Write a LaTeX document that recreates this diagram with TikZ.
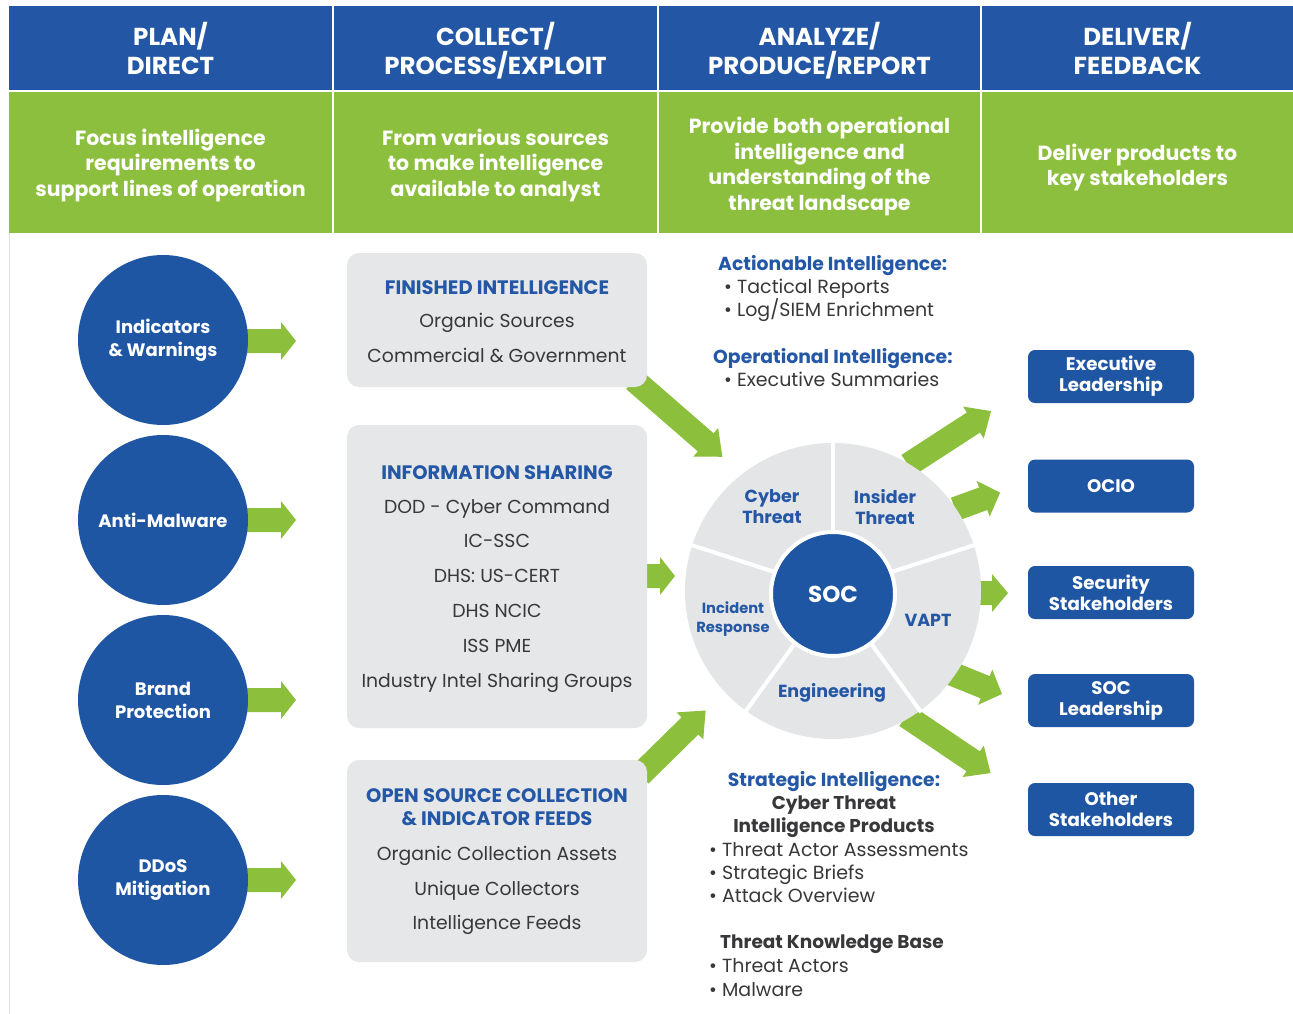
\documentclass[tikz,border=0pt]{standalone}
\usepackage{fontspec}
\setmainfont{Poppins}
\usetikzlibrary{calc}
\definecolor{hblue}{HTML}{2357A5}
\definecolor{hgreen}{HTML}{8DBF3F}
\definecolor{cblue}{HTML}{1F56A3}
\definecolor{boxgray}{HTML}{E6E7E9}
\definecolor{wgray}{HTML}{E4E5E7}
\definecolor{tblue}{HTML}{2457A6}
\definecolor{tgray}{HTML}{38383A}
\definecolor{agreen}{HTML}{8CC03C}
\newcommand{\garrow}[5]{% x y ccw-angle length headlength
  \begin{scope}[shift={(#1,#2)},rotate=#3]
    \fill[agreen] (0,-12) -- ({#4-#5},-12) -- ({#4-#5},-19) -- (#4,0) -- ({#4-#5},19) -- ({#4-#5},12) -- (0,12) -- cycle;
  \end{scope}}
\begin{document}
\begin{tikzpicture}[x=1pt,y=-1pt,
  hcell/.style={fill=hblue, minimum height=84pt, inner sep=0pt},
  htext/.style={text=white, inner sep=0pt, align=center,
    font=\fontsize{24.5}{27}\selectfont\bfseries},
  gcell/.style={fill=hgreen, minimum height=141pt, inner sep=0pt},
  gtext/.style={text=white, inner sep=0pt, align=center,
    font=\fontsize{20.5}{25.5}\selectfont\bfseries},
  lcirc/.style={circle, fill=cblue, minimum size=170pt, inner sep=0pt, text=white, align=center,
    font=\fontsize{18}{23}\selectfont\bfseries},
  gbox/.style={fill=boxgray, rounded corners=12pt, minimum width=300pt, inner sep=0pt},
  lbl/.style={anchor=base, inner sep=0pt},
  lblw/.style={anchor=base west, inner sep=0pt},
  hd/.style={text=tblue, font=\fontsize{19.5}{23}\selectfont\bfseries},
  itm/.style={text=tgray, font=\fontsize{18.8}{23}\selectfont},
  rhd/.style={text=tblue, font=\fontsize{18.8}{23}\selectfont\bfseries},
  ritm/.style={text=tgray, font=\fontsize{19}{23}\selectfont},
  ritb/.style={text=tgray, font=\fontsize{18.5}{23}\selectfont\bfseries},
  wl/.style={text=tblue, align=center, inner sep=0pt, font=\fontsize{17.5}{21}\selectfont\bfseries},
  rbox/.style={fill=cblue, rounded corners=7pt, minimum width=166pt, minimum height=53pt, inner sep=0pt,
    text=white, align=center, font=\fontsize{18.2}{21}\selectfont\bfseries},
  divider/.style={white, line width=4pt}
]
\useasboundingbox[fill=white] (0,0) rectangle (1293,1014);
\draw[black!12, line width=1pt] (9,233) -- (9,1014);

% header
\node[hcell, minimum width=323pt] (h1) at (170.5,48) {};
\node[hcell, minimum width=323pt] (h2) at (495.5,48) {};
\node[hcell, minimum width=321pt] (h3) at (819.5,48) {};
\node[hcell, minimum width=311pt] (h4) at (1137.5,48) {};
\node[htext] (ht1) at (170.5,50.5) {PLAN/\\DIRECT\vphantom{/}};
\node[htext] (ht2) at (495.5,50.5) {COLLECT/\\PROCESS/EXPLOIT};
\node[htext] (ht3) at (819.5,50.5) {ANALYZE/\\PRODUCE/REPORT};
\node[htext] (ht4) at (1137.5,50.5) {DELIVER/\\FEEDBACK\vphantom{/}};
\node[gcell, minimum width=323pt] (g1) at (170.5,162.5) {};
\node[gcell, minimum width=323pt] (g2) at (495.5,162.5) {};
\node[gcell, minimum width=321pt] (g3) at (819.5,162.5) {};
\node[gcell, minimum width=311pt] (g4) at (1137.5,162.5) {};
\node[gtext] (gt1) at (170.5,165.5) {Focus intelligence\\requirements to\\support lines of operation};
\node[gtext] (gt2) at (495.5,165.5) {From various sources\\to make intelligence\\available to analyst};
\node[gtext] (gt3) at (819.5,166.5) {Provide both operational\\intelligence and\\understanding of the\\threat landscape};
\node[gtext] (gt4) at (1137.5,167.5) {Deliver products to\\key stakeholders};

% green arrows
\garrow{245}{341}{0}{51}{15}
\garrow{245}{520}{0}{51}{15}
\garrow{245}{700}{0}{51}{15}
\garrow{245}{880}{0}{51}{15}
\garrow{646}{576}{0}{29}{15}
\garrow{634}{380}{-41}{117}{22}
\garrow{640}{775}{44.5}{92}{22}
\garrow{908}{465}{33}{99}{21}
\garrow{955}{509}{20}{48}{18}
\garrow{975}{593}{0}{33}{16}
\garrow{950}{673}{-22}{56}{18}
\garrow{906}{716}{-34}{102}{21}

% left circles
\node[lcirc] (c1) at (163,340) {Indicators\\\& Warnings};
\node[lcirc] (c2) at (163,520) {Anti-Malware};
\node[lcirc] (c3) at (163,700) {Brand\\Protection};
\node[lcirc] (c4) at (163,880) {DDoS\\Mitigation};

% gray boxes
\node[gbox, minimum height=134pt] (fin) at (497,320) {};
\node[gbox, minimum height=303pt] (inf) at (497,576.5) {};
\node[gbox, minimum height=202pt] (osc) at (497,861) {};

\node[lbl, hd] at (497,294) {FINISHED INTELLIGENCE};
\node[lbl, itm] at (497,327) {Organic Sources};
\node[lbl, itm] at (497,362) {Commercial \& Government};

\node[lbl, hd] at (497,479) {INFORMATION SHARING};
\node[lbl, itm] at (497,513) {DOD - Cyber Command};
\node[lbl, itm] at (497,547) {IC-SSC};
\node[lbl, itm] at (497,582) {DHS: US-CERT};
\node[lbl, itm] at (497,617) {DHS NCIC};
\node[lbl, itm] at (497,652) {ISS PME};
\node[lbl, itm] at (497,687) {Industry Intel Sharing Groups};

\node[lbl, hd] at (497,802) {OPEN SOURCE COLLECTION};
\node[lbl, hd] at (497,825) {\& INDICATOR FEEDS};
\node[lbl, itm] at (497,860) {Organic Collection Assets};
\node[lbl, itm] at (497,895) {Unique Collectors};
\node[lbl, itm] at (497,929) {Intelligence Feeds};

% analyze texts
\node[lblw, rhd] at (718,270) {Actionable Intelligence:};
\node[lblw, ritm] at (724,293) {• Tactical Reports};
\node[lblw, ritm] at (724,316) {• Log/SIEM Enrichment};
\node[lblw, rhd] at (713,363) {Operational Intelligence:};
\node[lblw, ritm] at (724,386) {• Executive Summaries};

\node[lbl, rhd] at (834,786) {Strategic Intelligence:};
\node[lbl, ritb] at (834,809) {Cyber Threat};
\node[lbl, ritb] at (834,832) {Intelligence Products};
\node[lblw, ritm] at (709,856) {• Threat Actor Assessments};
\node[lblw, ritm] at (709,879) {• Strategic Briefs};
\node[lblw, ritm] at (709,902) {• Attack Overview};
\node[lblw, ritb] at (720,948) {Threat Knowledge Base};
\node[lblw, ritm] at (709,972) {• Threat Actors};
\node[lblw, ritm] at (709,996) {• Malware};

% wheel
\coordinate (w) at (833,591);
\fill[wgray] (w) circle (148);
\foreach \a in {-90,-18,54,126,198}
  \draw[divider] ($(w)+(\a:58)$) -- ($(w)+(\a:150)$);
\node[circle, fill=cblue, draw=white, line width=4pt, minimum size=124pt, inner sep=0pt,
  text=white, font=\fontsize{23}{26}\selectfont\bfseries] (soc) at (833,594) {SOC};
\node[wl] (ct) at (772,507) {Cyber\\Threat};
\node[wl] (it) at (885,507) {Insider\\Threat};
\node[wl] (va) at (928,620) {VAPT};
\node[wl] (en) at (832,693) {Engineering};
\node[wl, font=\fontsize{14.7}{19}\selectfont\bfseries] (ir) at (733,619) {Incident\\Response};

% deliver boxes
\node[rbox] (r1) at (1111,376.5) {Executive\\Leadership};
\node[rbox] (r2) at (1111,486) {OCIO};
\node[rbox] (r3) at (1111,592.5) {Security\\Stakeholders};
\node[rbox] (r4) at (1111,700.5) {SOC\\Leadership};
\node[rbox] (r5) at (1111,809.5) {Other\\Stakeholders};
\end{tikzpicture}
\end{document}
